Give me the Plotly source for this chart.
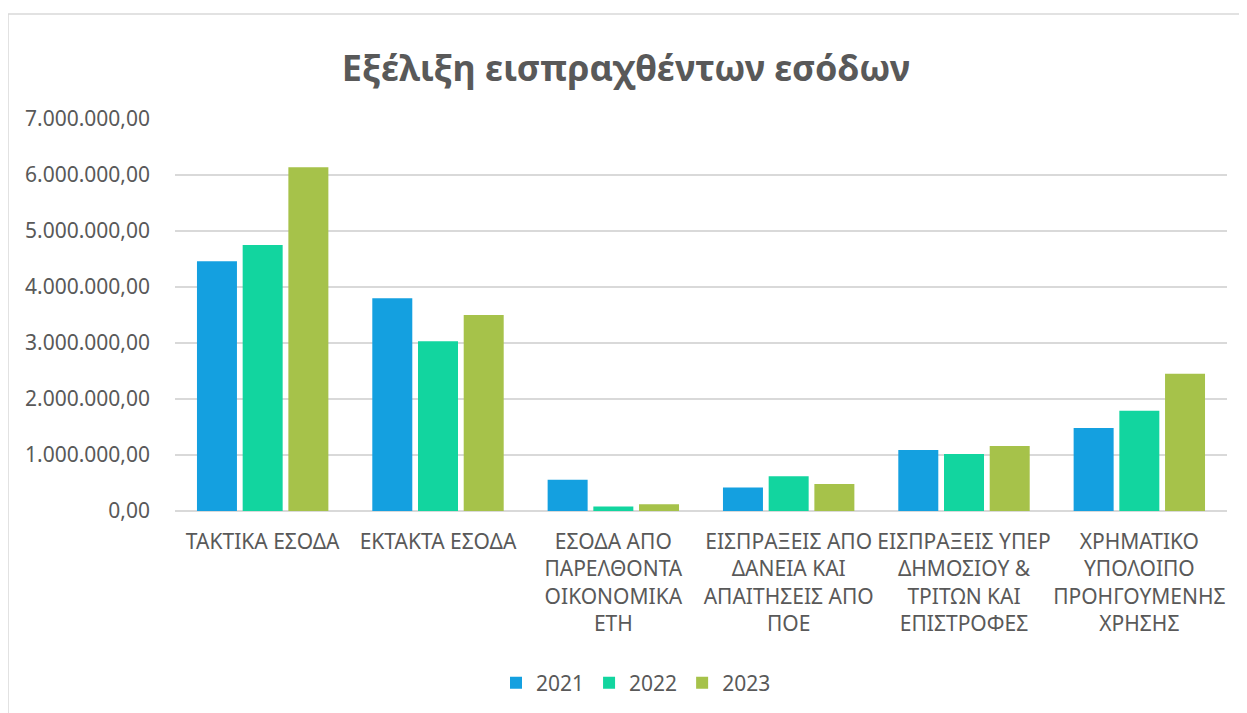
import plotly.graph_objects as go

categories = [
    "ΤΑΚΤΙΚΑ ΕΣΟΔΑ",
    "ΕΚΤΑΚΤΑ ΕΣΟΔΑ",
    "ΕΣΟΔΑ ΑΠΟ<br>ΠΑΡΕΛΘΟΝΤΑ<br>ΟΙΚΟΝΟΜΙΚΑ<br>ΕΤΗ",
    "ΕΙΣΠΡΑΞΕΙΣ ΑΠΟ<br>ΔΑΝΕΙΑ ΚΑΙ<br>ΑΠΑΙΤΗΣΕΙΣ ΑΠΟ<br>ΠΟΕ",
    "ΕΙΣΠΡΑΞΕΙΣ ΥΠΕΡ<br>ΔΗΜΟΣΙΟΥ &<br>ΤΡΙΤΩΝ ΚΑΙ<br>ΕΠΙΣΤΡΟΦΕΣ",
    "ΧΡΗΜΑΤΙΚΟ<br>ΥΠΟΛΟΙΠΟ<br>ΠΡΟΗΓΟΥΜΕΝΗΣ<br>ΧΡΗΣΗΣ",
]
values_2021 = [4460000, 3800000, 560000, 420000, 1090000, 1480000]
values_2022 = [4750000, 3030000, 80000, 620000, 1020000, 1790000]
values_2023 = [6140000, 3500000, 120000, 480000, 1160000, 2450000]
series_names = ["2021", "2022", "2023"]
tick_values = [0, 1000000, 2000000, 3000000, 4000000, 5000000, 6000000, 7000000]


def greek_fmt(v):
    s = f"{v:,.2f}"
    return s.replace(",", "X").replace(".", ",").replace("X", ".")


tick_text = [greek_fmt(v) for v in tick_values]

colors = ["#14a0e0", "#12d59f", "#a6c24a"]
text_color = "#595959"
font_family = "Noto Sans"

# page body has an 8px margin, so the figure is sized/offset to compensate
W, H = 1239, 705
L, T, PH, PW = 167, 111, 392, 1052

fig = go.Figure()
for name, vals, col in zip(series_names, [values_2021, values_2022, values_2023], colors):
    fig.add_trace(go.Bar(x=categories, y=vals, name=name,
                         marker=dict(color=col, line=dict(width=0))))

fig.update_layout(
    width=W, height=H,
    margin=dict(l=L, r=W - L - PW, t=T, b=H - T - PH, autoexpand=False),
    paper_bgcolor="white", plot_bgcolor="white",
    barmode="group", bargap=0.218, bargroupgap=0.125,
    title=dict(text="<b>Εξέλιξη εισπραχθέντων εσόδων</b>",
               xref="container", x=(626 - 8) / W, xanchor="center",
               yref="container", y=1 - 60 / H, yanchor="middle",
               font=dict(family=font_family, size=36, color=text_color)),
    font=dict(family=font_family, size=21, color=text_color),
    legend=dict(orientation="h", xref="container", x=(636 - 8) / W, xanchor="center",
                yref="container", y=1 - (683 - 8) / H, yanchor="middle",
                font=dict(size=21, color=text_color),
                traceorder="normal"),
    showlegend=True,
)
fig.update_yaxes(range=[0, 7000000], tickvals=tick_values, ticktext=tick_text,
                 showgrid=True, gridcolor="#d9d9d9", gridwidth=1.5,
                 zeroline=True, zerolinecolor="#d9d9d9", zerolinewidth=1.5,
                 showline=False, ticks="", ticklabelstandoff=24,
                 tickfont=dict(size=21, color=text_color))
fig.update_xaxes(showline=False, ticks="", tickangle=0, ticklabelstandoff=16,
                 tickfont=dict(size=21, color=text_color))

fig.add_shape(type="rect", xref="paper", yref="paper",
              x0=-L / PW, x1=1.05, y0=-0.6, y1=(T + PH - 6) / PH,
              line=dict(color="#d9d9d9", width=1.5), fillcolor="rgba(0,0,0,0)",
              layer="below")

fig.write_html("out.html")
